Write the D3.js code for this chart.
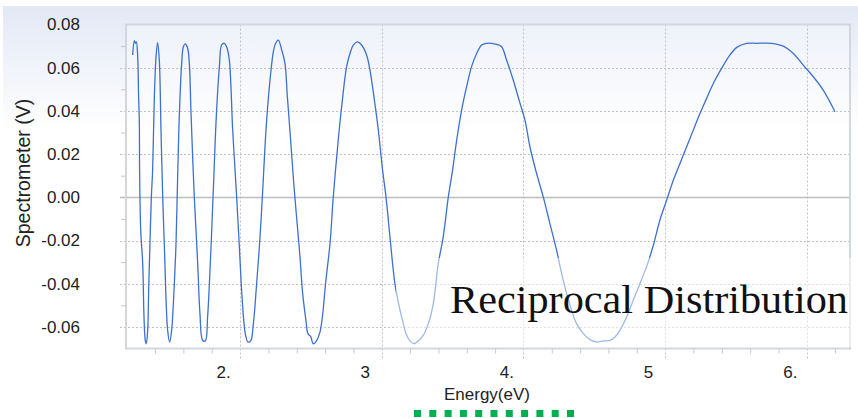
<!DOCTYPE html>
<html>
<head>
<meta charset="utf-8">
<script src="https://cdn.jsdelivr.net/npm/d3@7"></script>
<style>
  body { margin: 0; background: #fff; }
  svg { display: block; font-family: "Liberation Sans", Arial, sans-serif; }
</style>
</head>
<body>
<svg width="858" height="418"></svg>
<script>
// values
const energy = [
  1.242, 1.254, 1.261, 1.268, 1.277, 1.284, 1.289, 1.291, 1.299, 1.313,
  1.322, 1.331, 1.338, 1.348, 1.355, 1.364, 1.374, 1.383, 1.395, 1.407,
  1.418, 1.430, 1.442, 1.454, 1.466, 1.477, 1.489, 1.503, 1.517, 1.536,
  1.548, 1.560, 1.571, 1.588, 1.600, 1.614, 1.630, 1.642, 1.654, 1.677,
  1.701, 1.717, 1.736, 1.755, 1.771, 1.795, 1.814, 1.830, 1.854, 1.870,
  1.889, 1.905, 1.924, 1.948, 1.976, 1.995, 2.014, 2.037, 2.056, 2.075,
  2.094, 2.117, 2.141, 2.160, 2.183, 2.207,
  2.235, 2.249, 2.270, 2.294, 2.317, 2.334, 2.357, 2.381, 2.399, 2.423,
  2.442, 2.465, 2.479, 2.498, 2.517, 2.541, 2.564, 2.581, 2.606, 2.635,
  2.658, 2.693, 2.717, 2.752, 2.776, 2.799, 2.828, 2.858, 2.893, 2.917,
  2.945, 2.976, 3.006, 3.030, 3.058, 3.093, 3.124, 3.147, 3.171, 3.199,
  3.227, 3.258, 3.293, 3.329, 3.364, 3.399,
  3.434, 3.470, 3.500, 3.529, 3.564, 3.599, 3.634, 3.670, 3.705, 3.740,
  3.776, 3.811, 3.846, 3.881, 3.928, 3.976, 4.011, 4.046, 4.093, 4.140,
  4.187, 4.234, 4.270, 4.305, 4.340, 4.375, 4.423, 4.470, 4.517, 4.564,
  4.611, 4.646, 4.681, 4.728, 4.775, 4.822, 4.869, 4.917,
  4.963, 5.011, 5.058, 5.105, 5.152, 5.199, 5.246, 5.293, 5.340, 5.399,
  5.458, 5.505, 5.575, 5.646, 5.752, 5.834, 5.905, 5.975, 6.046, 6.116,
  6.199
];
const voltage = [
  0.0659, 0.0725, 0.0713, 0.0720, 0.0659, 0.0465, 0.0357, 0.0126, -0.0152, -0.0307,
  -0.0554, -0.0662, -0.0678, -0.0616, -0.0431, -0.0214, 0.0002, 0.0126, 0.0465, 0.0651,
  0.0716, 0.0636, 0.0311, 0.0002, -0.0230, -0.0461, -0.0616, -0.0670, -0.0616, -0.0400,
  -0.0214, 0.0110, 0.0373, 0.0620, 0.0697, 0.0710, 0.0690, 0.0620, 0.0388, 0.0002,
  -0.0307, -0.0539, -0.0662, -0.0665, -0.0554, -0.0230, 0.0079, 0.0342, 0.0605, 0.0705,
  0.0713, 0.0697, 0.0636, 0.0311, 0.0002, -0.0230, -0.0461, -0.0631, -0.0670, -0.0665,
  -0.0585, -0.0400, -0.0183, 0.0033, 0.0311, 0.0512,
  0.0674, 0.0710, 0.0728, 0.0682, 0.0620, 0.0465, 0.0265, 0.0048, -0.0091, -0.0276,
  -0.0446, -0.0570, -0.0631, -0.0644, -0.0678, -0.0662, -0.0624, -0.0554, -0.0384, -0.0214,
  0.0002, 0.0265, 0.0419, 0.0605, 0.0666, 0.0705, 0.0720, 0.0705, 0.0659, 0.0589,
  0.0465, 0.0311, 0.0126, 0.0002, -0.0183, -0.0400, -0.0508, -0.0570, -0.0631, -0.0665,
  -0.0678, -0.0665, -0.0639, -0.0585, -0.0492, -0.0307,
  -0.0183, 0.0002, 0.0126, 0.0265, 0.0404, 0.0512, 0.0605, 0.0666, 0.0705, 0.0713,
  0.0713, 0.0708, 0.0697, 0.0636, 0.0543, 0.0435, 0.0357, 0.0234, 0.0110, 0.0002,
  -0.0122, -0.0245, -0.0353, -0.0446, -0.0523, -0.0585, -0.0631, -0.0659, -0.0670, -0.0665,
  -0.0662, -0.0647, -0.0616, -0.0554, -0.0477, -0.0400, -0.0322, -0.0222,
  -0.0106, -0.0013, 0.0079, 0.0157, 0.0234, 0.0311, 0.0388, 0.0458, 0.0527, 0.0597,
  0.0659, 0.0694, 0.0713, 0.0713, 0.0713, 0.0700, 0.0666, 0.0612, 0.0558, 0.0496,
  0.0396
];
const xTicks = [2, 3, 4, 5, 6];
const xTickLabels = ["2.", "3", "4.", "5", "6."];
const xMinor = [1.4, 1.6, 1.8, 2.2, 2.4, 2.6, 2.8, 3.2, 3.4, 3.6, 3.8,
  4.2, 4.4, 4.6, 4.8, 5.2, 5.4, 5.6, 5.8, 6.2];
const yTicks = [0.08, 0.06, 0.04, 0.02, 0, -0.02, -0.04, -0.06];
const yTickLabels = ["0.08", "0.06", "0.04", "0.02", "0.00", "-0.02", "-0.04", "-0.06"];
const yMinor = [0.07, 0.05, 0.03, 0.01, -0.01, -0.03, -0.05];

const L = 126, R = 850, T = 24.5, B = 348.5;
const svg = d3.select("svg");

const x = d3.scaleLinear().domain([1.195, 6.305]).range([L, R]);
const y = d3.scaleLinear().domain([-0.07, 0.08]).range([B, T]);

// background panel with pale blue top
const defs = svg.append("defs");
const grad = defs.append("linearGradient").attr("id", "bg")
  .attr("x1", 0).attr("y1", 0).attr("x2", 0).attr("y2", 1);
grad.append("stop").attr("offset", "0%").attr("stop-color", "#e2e8f5");
grad.append("stop").attr("offset", "30%").attr("stop-color", "#ffffff");
svg.append("rect").attr("x", 3).attr("y", 6).attr("width", 855).attr("height", 412)
  .attr("fill", "url(#bg)");
svg.append("rect").attr("x", L).attr("y", T).attr("width", R - L).attr("height", B - T)
  .attr("fill", "#fff").attr("fill-opacity", 0.3);

// grid
const grid = svg.append("g").attr("stroke", "#c2c2c2").attr("stroke-width", 1)
  .attr("stroke-dasharray", "2,2");
grid.selectAll(".h").data(yTicks.filter(d => d !== 0 && d !== 0.08)).join("line")
  .attr("x1", L - 6).attr("x2", R)
  .attr("y1", d => Math.round(y(d)) + 0.5).attr("y2", d => Math.round(y(d)) + 0.5);
grid.selectAll(".v").data(xTicks).join("line")
  .attr("y1", T).attr("y2", B + 10)
  .attr("x1", d => Math.round(x(d)) + 0.5).attr("x2", d => Math.round(x(d)) + 0.5);
svg.append("line").attr("x1", L - 6).attr("x2", R)
  .attr("y1", Math.round(y(0)) + 0.5).attr("y2", Math.round(y(0)) + 0.5)
  .attr("stroke", "#bdbdbd").attr("stroke-width", 1.5);

// plot border
svg.append("rect").attr("x", L).attr("y", T).attr("width", R - L).attr("height", B - T)
  .attr("fill", "none").attr("stroke", "#d3d7dd").attr("stroke-width", 2);

// minor ticks
svg.append("g").attr("transform", `translate(${L},0)`)
  .call(d3.axisLeft(y).tickValues(yMinor).tickSize(5).tickFormat(""))
  .call(g => g.select(".domain").remove())
  .call(g => g.selectAll("line").attr("stroke", "#c8c8c8"));
svg.append("g").attr("transform", `translate(0,${B})`)
  .call(d3.axisBottom(x).tickValues(xMinor).tickSize(5).tickFormat(""))
  .call(g => g.select(".domain").remove())
  .call(g => g.selectAll("line").attr("stroke", "#c8c8c8"));

// tick labels
svg.append("g").attr("transform", `translate(${L},0)`)
  .call(d3.axisLeft(y).tickValues(yTicks).tickSize(0).tickPadding(46)
    .tickFormat((d, i) => yTickLabels[i]))
  .call(g => g.select(".domain").remove())
  .call(g => g.selectAll("text").attr("font-size", 17).attr("fill", "#222")
    .attr("font-family", "Liberation Sans, Arial, sans-serif"));
svg.append("g").attr("transform", `translate(0,${B})`)
  .call(d3.axisBottom(x).tickValues(xTicks).tickSize(0).tickPadding(17)
    .tickFormat((d, i) => xTickLabels[i]))
  .call(g => g.select(".domain").remove())
  .call(g => g.selectAll("text").attr("font-size", 17).attr("fill", "#222")
    .attr("dx", -17).attr("font-family", "Liberation Sans, Arial, sans-serif"));

// axis titles
svg.append("text").attr("x", 487).attr("y", 400).attr("text-anchor", "middle")
  .attr("font-size", 17).attr("fill", "#222").text("Energy(eV)");
svg.append("text").attr("transform", "translate(30,173) rotate(-90)")
  .attr("text-anchor", "middle").attr("font-size", 19.5).attr("fill", "#222")
  .text("Spectrometer (V)");

// the signal
const pts = energy.map((e, i) => [e, voltage[i]]);
svg.append("path").datum(pts)
  .attr("fill", "none").attr("stroke", "#3d71cf").attr("stroke-width", 1.3)
  .attr("stroke-linejoin", "round")
  .attr("d", d3.line().x(d => x(d[0])).y(d => y(d[1])).curve(d3.curveCatmullRom.alpha(0.5)));

// overlay caption
svg.append("rect").attr("x", 396).attr("y", 258).attr("width", 462).attr("height", 89)
  .attr("fill", "#fff").attr("fill-opacity", 0.5);
svg.append("text").attr("x", 450).attr("y", 313)
  .attr("font-family", "Liberation Serif, Times New Roman, serif")
  .attr("font-size", 40).attr("fill", "#111")
  .attr("textLength", 398).attr("lengthAdjust", "spacingAndGlyphs")
  .text("Reciprocal Distribution");

// green dotted marker under the axis title
svg.append("line").attr("x1", 414).attr("x2", 574).attr("y1", 413.5).attr("y2", 413.5)
  .attr("stroke", "#00b050").attr("stroke-width", 7).attr("stroke-dasharray", "7,8.3");
</script>
</body>
</html>
